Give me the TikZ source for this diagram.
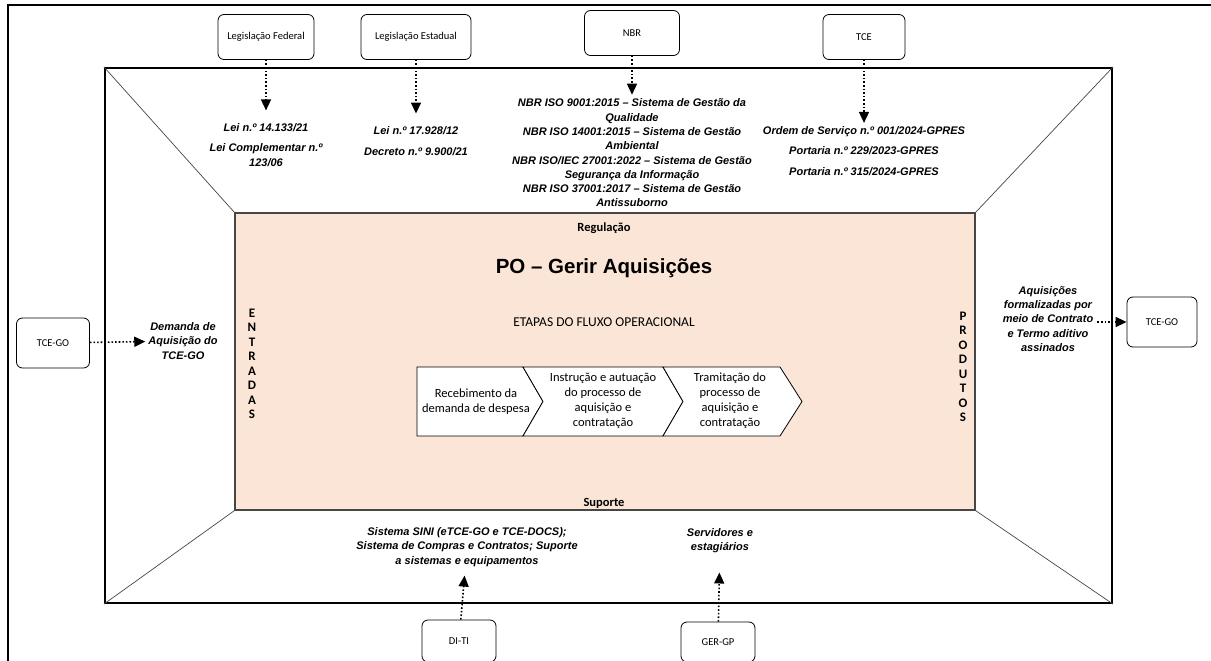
\documentclass[tikz,border=0pt]{standalone}
\usepackage{fontspec}
\setmainfont{Carlito}
\newfontfamily\arialfont{Liberation Sans}
\usetikzlibrary{arrows.meta, positioning, shapes, calc}
\definecolor{mysalmon}{RGB}{251,229,214}
\definecolor{mygray}{RGB}{70,70,70}

\begin{document}
\begin{tikzpicture}[
    x=1pt, y=-1pt,
    org/.style={draw, rounded corners=6pt, line width=0.8pt, fill=white, minimum height=45pt, font=\fontsize{10.5}{12}\selectfont},
    rule/.style={align=center, inner sep=1pt, font=\arialfont\fontsize{11}{14.3}\selectfont\bfseries\itshape},
    edge/.style={-{Triangle[length=11pt,width=10pt]}, line width=1.6pt, dotted},
    chev/.style={draw, line width=0.8pt, fill=white},
    steptext/.style={align=center, font=\fontsize{12.5}{15}\selectfont},
    vword/.style={align=center, font=\bfseries\fontsize{13}{14.5}\selectfont},
    corner/.style={draw=mygray, line width=0.7pt}
]
\useasboundingbox (0,0) rectangle (1211,661);

% Page frame
\draw[line width=2.5pt] (8,661) -- (8,5) -- (1211,5);

% Frames
\node[draw, line width=2.2pt, minimum width=1007pt, minimum height=535pt] (outer) at (608.5,335.5) {};
\node[draw=mygray, line width=1.3pt, fill=mysalmon, minimum width=740pt, minimum height=297pt] (inner) at (605,361.5) {};
\draw[corner] (outer.north west) -- (inner.north west);
\draw[corner] (outer.north east) -- (inner.north east);
\draw[corner] (outer.south west) -- (inner.south west);
\draw[corner] (outer.south east) -- (inner.south east);

% Inner texts
\node[font=\bfseries\fontsize{12.5}{14}\selectfont] (reg) at (604,228) {Regulação};
\node[font=\arialfont\bfseries\fontsize{20.5}{22}\selectfont] (title) at (604,268) {PO – Gerir Aquisições};
\node[font=\fontsize{13.5}{15}\selectfont] (etapas) at (604,322) {ETAPAS DO FLUXO OPERACIONAL};
\node[font=\bfseries\fontsize{12.5}{14}\selectfont] (suporte) at (604,503) {Suporte};
\node[vword] (entradas) at (252,364) {E\\N\\T\\R\\A\\D\\A\\S};
\node[vword] (produtos) at (963,367) {P\\R\\O\\D\\U\\T\\O\\S};

% Process steps
\draw[chev] (417,367) -- (523,367) -- (543,401.5) -- (523,436) -- (417,436) -- cycle;
\draw[chev] (523,367) -- (663,367) -- (683,401.5) -- (663,436) -- (523,436) -- (543,401.5) -- cycle;
\draw[chev] (663,367) -- (780,367) -- (802,401.5) -- (780,436) -- (663,436) -- (683,401.5) -- cycle;
\node[steptext] (step1) at (476,402) {Recebimento da\\demanda de despesa};
\node[steptext] (step2) at (603,401) {Instrução e autuação\\do processo de\\aquisição e\\contratação};
\node[steptext] (step3) at (730,401) {Tramitação do\\processo de\\aquisição e\\contratação};

% Sources
\node[org, minimum width=96pt] (legfed) at (266,37) {Legislação Federal};
\node[org, minimum width=110pt] (legest) at (416,37) {Legislação Estadual};
\node[org, minimum width=95pt] (nbr) at (632,33) {NBR};
\node[org, minimum width=82pt] (tce) at (864,37) {TCE};
\node[org, minimum width=73pt, minimum height=50pt] (tcegoin) at (53,343) {TCE-GO};
\node[org, minimum width=70pt, minimum height=50pt] (tcegoout) at (1162,322) {TCE-GO};
\node[org, minimum width=74pt, minimum height=42pt] (diti) at (459,641) {DI-TI};
\node[org, minimum width=74pt, minimum height=40pt] (gergp) at (718,642) {GER-GP};

% Rules and resources
\node[rule] (leifed) at (266,145) {Lei n.º 14.133/21\\[6pt]Lei Complementar n.º\\123/06};
\node[rule] (leiest) at (416,141) {Lei n.º 17.928/12\\[6pt]Decreto n.º 9.900/21};
\node[rule] (nbrtxt) at (632,153) {NBR ISO 9001:2015 – Sistema de Gestão da\\Qualidade\\NBR ISO 14001:2015 – Sistema de Gestão\\Ambiental\\NBR ISO/IEC 27001:2022 – Sistema de Gestão\\Segurança da Informação\\NBR ISO 37001:2017 – Sistema de Gestão\\Antissuborno};
\node[rule] (tcetxt) at (864,151) {Ordem de Serviço n.º 001/2024-GPRES\\[6.5pt]Portaria n.º 229/2023-GPRES\\[6.5pt]Portaria n.º 315/2024-GPRES};
\node[rule] (demanda) at (183,341) {Demanda de\\Aquisição do\\TCE-GO};
\node[rule] (aquis) at (1048,319) {Aquisições\\formalizadas por\\meio de Contrato\\e Termo aditivo\\assinados};
\node[rule] (sistemas) at (467,547) {Sistema SINI (eTCE-GO e TCE-DOCS);\\Sistema de Compras e Contratos; Suporte\\a sistemas e equipamentos};
\node[rule] (servid) at (720,541) {Servidores e\\estagiários};

% Edges
\draw[edge, shorten >=12pt] (legfed) -- (leifed);
\draw[edge, shorten >=12pt] (legest) -- (leiest);
\draw[edge, shorten >=3pt] (nbr) -- (nbrtxt);
\draw[edge, shorten >=2pt] (tce) -- (tcetxt);
\draw[edge, shorten >=2pt] (tcegoin) -- (demanda);
\draw[edge, shorten <=3pt] (aquis.east |- tcegoout) -- (tcegoout.west);
\draw[edge, shorten >=8pt] (diti) -- (sistemas);
\draw[edge, shorten >=18pt] (gergp) -- (servid);

\end{tikzpicture}
\end{document}
